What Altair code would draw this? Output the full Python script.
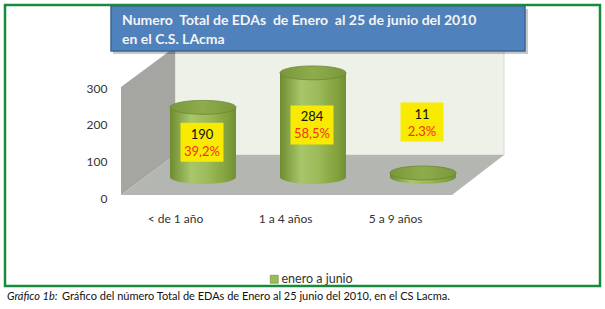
import altair as alt
import pandas as pd

# ---- data ----
categories = ["< de 1 año", "1 a 4 años", "5 a 9 años"]
values = [190, 284, 11]
percent_labels = ["39,2%", "58,5%", "2.3%"]
series_name = "enero a junio"
y_ticks = [0, 100, 200, 300]
title_lines = ["Numero\u00a0 Total de EDAs\u00a0 de Enero\u00a0 al 25 de junio del 2010", "en el C.S. LAcma"]
caption_lead = "Gráfico 1b:"
caption_text = "Gráfico del número Total de EDAs de Enero al 25 junio del 2010, en el CS Lacma."

df = pd.DataFrame({"cat": categories, "value": values, "pct": percent_labels,
                   "serie": [series_name] * len(categories)})
one = pd.DataFrame({"k": [0]})

FONT = "Lato"
DX, DY = 28, -21  # depth shift of the 3D bars

xscale = alt.Scale(type="point", domain=categories, range=[175, 395], padding=0)
yscale = alt.Scale(domain=[0, 300], range=[198, 88], nice=False, zero=False)
xaxis = alt.Axis(title=None, orient="bottom", offset=-98, ticks=False, tickSize=0, domain=False,
                 grid=False, labelPadding=2, labelFont=FONT, labelFontSize=12, labelColor="#333333",
                 labelAngle=0)
yaxis = alt.Axis(title=None, orient="left", offset=-109, values=y_ticks, ticks=False, tickSize=0,
                 domain=False, grid=False, labelPadding=2, labelFont=FONT, labelFontSize=12,
                 labelColor="#333333")
X = alt.X("cat:N", scale=xscale, axis=xaxis, sort=categories)
Y = alt.Y("value:Q", scale=yscale, axis=yaxis)

body_grad = alt.Gradient(gradient="linear", x1=0, x2=1, y1=0, y2=0, stops=[
    alt.GradientStop(color="#6f8c30", offset=0),
    alt.GradientStop(color="#a8c66a", offset=0.32),
    alt.GradientStop(color="#9dbc5b", offset=0.55),
    alt.GradientStop(color="#84a33f", offset=0.85),
    alt.GradientStop(color="#718f34", offset=1)])
top_grad = alt.Gradient(gradient="linear", x1=0, x2=1, y1=0, y2=0, stops=[
    alt.GradientStop(color="#7a973b", offset=0),
    alt.GradientStop(color="#8fac4d", offset=0.5),
    alt.GradientStop(color="#7a973b", offset=1)])

ELLIPSE = "M-1,0 A1,0.21 0 1,1 1,0 A1,0.21 0 1,1 -1,0 Z"
BOX = "M-1,-0.907 L1,-0.907 L1,0.907 L-1,0.907 Z"
CYL_W = 66

deco = alt.Chart(one)

# 3D frame (decorative)
back_wall = deco.mark_rect(fill="#edf1e8", stroke="#d6d9d2", strokeWidth=1).encode(
    x=alt.value(175), x2=alt.value(504), y=alt.value(47), y2=alt.value(155))
left_wall = deco.mark_point(shape="M121,87 L175,47 L175,155 L121,195 Z", size=4, filled=True,
                            opacity=1, fill="#a5a6a2", strokeWidth=0).encode(
    x=alt.value(0), y=alt.value(0))
floor = deco.mark_point(shape="M121,195 L452,195 L504,155 L175,155 Z", size=4, filled=True,
                        opacity=1, fill="#b4b6b1", strokeWidth=0).encode(
    x=alt.value(0), y=alt.value(0))

base = alt.Chart(df)

bottom_ell = base.mark_point(shape=ELLIPSE, size=CYL_W ** 2, filled=True, opacity=1, fill=body_grad,
                             strokeWidth=0, xOffset=DX, yOffset=DY).encode(
    x=X, y=alt.Y(datum=0, scale=yscale, axis=yaxis))
legend_bar = base.mark_bar(size=CYL_W, xOffset=DX, yOffset=DY).encode(
    x=X, y=Y,
    color=alt.Color("serie:N", scale=alt.Scale(range=["#9bbb59"]),
                    legend=alt.Legend(orient="none", legendX=268, legendY=273, title=None,
                                      symbolType="square", symbolSize=64, padding=0,
                                      labelFont=FONT, labelFontSize=12.5, labelColor="#333333",
                                      labelOffset=1, symbolStrokeColor="#6f8c30",
                                      symbolStrokeWidth=0.6)))
body = base.mark_bar(size=CYL_W, xOffset=DX, yOffset=DY, fill=body_grad).encode(x=X, y=Y)
top_ell = base.mark_point(shape=ELLIPSE, size=CYL_W ** 2, filled=True, opacity=1, fill=top_grad,
                          stroke="#6b8631", strokeWidth=0.8, xOffset=DX, yOffset=DY).encode(x=X, y=Y)

# data labels sit mid-bar; a label too small to fit is lifted above the bar
lab = base.transform_calculate(lab="datum.value < 50 ? 150 : datum.value / 2")
LY = alt.Y("lab:Q", scale=yscale, axis=yaxis)
boxes = lab.mark_point(shape=BOX, size=43 ** 2, filled=True, opacity=1, fill="#f8ea00",
                       strokeWidth=0, xOffset=DX - 1, yOffset=DY).encode(x=X, y=LY)
num_text = lab.mark_text(font=FONT, fontSize=13, color="#111111", baseline="middle",
                         align="center", xOffset=DX - 1, yOffset=DY - 7.5).encode(
    x=X, y=LY, text="value:Q")
pct_text = lab.mark_text(font=FONT, fontSize=13, color="#f2321e", baseline="middle",
                         align="center", xOffset=DX - 1, yOffset=DY + 9.5).encode(
    x=X, y=LY, text="pct:N")

# title box
title_shadow = deco.mark_rect(fill="#000000", opacity=0.22).encode(
    x=alt.value(113), x2=alt.value(528), y=alt.value(9), y2=alt.value(54))
title_box = deco.mark_rect(fill="#4f81bd", stroke="#3c6494", strokeWidth=1.5).encode(
    x=alt.value(111), x2=alt.value(525), y=alt.value(6), y2=alt.value(51))
title1 = deco.mark_text(text=title_lines[0], font=FONT, fontSize=14, fontWeight="bold",
                        color="#f4f4f4", align="left", baseline="middle").encode(
    x=alt.value(122), y=alt.value(21))
title2 = deco.mark_text(text=title_lines[1], font=FONT, fontSize=14, fontWeight="bold",
                        color="#f4f4f4", align="left", baseline="middle").encode(
    x=alt.value(122), y=alt.value(40))

border = deco.mark_rect(fillOpacity=0, stroke="#178a3c", strokeWidth=2.5).encode(
    x=alt.value(5), x2=alt.value(600), y=alt.value(5), y2=alt.value(286))

cap1 = deco.mark_text(text=caption_lead, font=FONT, fontSize=11, fontStyle="italic",
                      color="#111111", align="left", baseline="middle").encode(
    x=alt.value(7), y=alt.value(297))
cap2 = deco.mark_text(text=caption_text, font=FONT, fontSize=11, color="#111111",
                      align="left", baseline="middle").encode(
    x=alt.value(62), y=alt.value(297))

chart = alt.layer(
    back_wall, left_wall, floor,
    bottom_ell, legend_bar, body, top_ell,
    boxes, num_text, pct_text,
    title_shadow, title_box, title1, title2,
    border, cap1, cap2,
).properties(
    width=605, height=309,
    autosize=alt.AutoSizeParams(type="none"),
    padding=0,
    background="white",
).configure_view(strokeWidth=0)

chart.save("out.html", embed_options={"renderer": "svg", "actions": False})
